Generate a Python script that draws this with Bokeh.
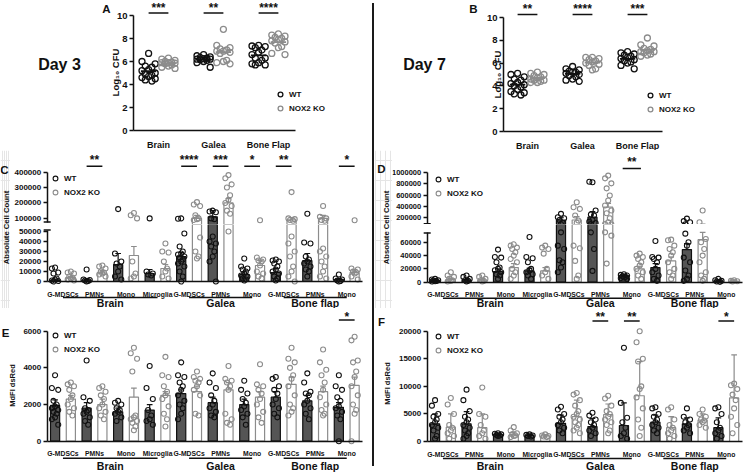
import math
import numpy as np
from bokeh.plotting import figure
from bokeh.models import (Range1d, FixedTicker, Label, Legend, LegendItem, Div,
                          BasicTickFormatter)
from bokeh.layouts import row, column
from bokeh.embed import file_html
from bokeh.resources import INLINE
from bokeh.core.properties import value

# ---------------- data ----------------
organs = ["Brain", "Galea", "Bone Flap"]
cell_types = ["G-MDSCs", "PMNs", "Mono", "Microglia", "G-MDSCs", "PMNs", "Mono",
              "G-MDSCs", "PMNs", "Mono"]
tissues = ["Brain", "Galea", "Bone flap"]
tissue_spans = [(1, 4), (5, 7), (8, 10)]

# Panel A: Day 3, Log10 CFU
d3_brain_wt = [6.7, 6.0, 5.8, 5.6, 5.5, 5.3, 5.2, 5.0, 4.9, 4.8, 4.7, 4.6, 4.5, 4.4, 4.3]
d3_brain_ko = [6.3, 6.2, 6.1, 6.0, 5.95, 5.9, 5.9, 5.85, 5.8, 5.7, 5.6, 5.5, 5.4]
d3_galea_wt = [6.6, 6.5, 6.4, 6.35, 6.3, 6.25, 6.2, 6.2, 6.15, 6.1, 6.0, 5.9, 5.5]
d3_galea_ko = [8.8, 7.4, 7.2, 7.1, 7.0, 6.9, 6.9, 6.8, 6.7, 6.1, 6.0, 5.9, 5.8]
d3_bone_wt = [7.4, 7.35, 7.3, 7.2, 7.0, 6.8, 6.6, 6.3, 6.3, 6.1, 5.9, 5.8, 5.7, 5.7]
d3_bone_ko = [8.4, 8.3, 8.2, 8.1, 8.0, 7.9, 7.8, 7.7, 7.6, 7.3, 7.2, 6.7, 6.6]
a_sig = ["***", "**", "****"]

# Panel B: Day 7, Log10 CFU
d7_brain_wt = [5.1, 5.0, 4.8, 4.6, 4.5, 4.3, 4.2, 4.1, 4.0, 3.9, 3.7, 3.5, 3.4, 3.3, 3.2]
d7_brain_ko = [5.2, 5.1, 5.0, 4.9, 4.8, 4.7, 4.6, 4.5, 4.5, 4.4, 4.3, 4.3]
d7_galea_wt = [5.7, 5.5, 5.4, 5.3, 5.2, 5.2, 5.1, 5.0, 4.9, 4.8, 4.6, 4.5, 4.4]
d7_galea_ko = [6.5, 6.5, 6.4, 6.3, 6.2, 6.1, 6.0, 5.9, 5.8, 5.5, 5.4]
d7_bone_wt = [7.0, 6.9, 6.8, 6.7, 6.6, 6.5, 6.4, 6.3, 6.2, 6.1, 6.0, 5.8, 5.5]
d7_bone_ko = [8.2, 7.6, 7.5, 7.3, 7.2, 7.1, 7.0, 7.0, 6.9, 6.8, 6.7, 6.6]
b_sig = ["**", "****", "***"]

# Panel C: Day 3 absolute cell count
c_wt_mean = [1500, 1500, 17000, 8000, 25000, 110000, 7000, 9000, 21000, 2000]
c_wt_err = [2500, 2200, 28000, 12000, 29000, 150000, 9500, 13000, 28000, 2800]
c_ko_mean = [4000, 8500, 26000, 13000, 100000, 200000, 16000, 90000, 100000, 9000]
c_ko_err = [5000, 11000, 35000, 17000, 120000, 228000, 21000, 105000, 120000, 12000]
c_wt_pts = [
    [14000, 13000, 9000, 8000, 3000, 2000, 1000, 500, 0],
    [12000, 2000, 1500, 1000, 500, 0],
    [160000, 28000, 20000, 18000, 15000, 10000, 5000, 2000],
    [100000, 10000, 8000, 7000, 6000],
    [100000, 98000, 48000, 35000, 30000, 28000, 27000, 25000, 24000, 22000, 20000, 18000, 15000, 10000, 5000, 0],
    [150000, 145000, 140000, 100000, 95000, 45000, 40000, 38000, 35000, 30000, 25000, 20000, 0],
    [23000, 15000, 13000, 12000, 10000, 8000, 6000, 5000, 3000, 2000, 1000],
    [22000, 21000, 20000, 18000, 15000, 12000, 10000, 8000, 5000, 3000, 1000],
    [130000, 39000, 38000, 25000, 22000, 20000, 18000, 15000, 12000, 10000, 5000],
    [7000, 3000, 2000, 1000, 500, 0],
]
c_ko_pts = [
    [10000, 9000, 8000, 5000, 4000, 3000, 2000, 1000],
    [16000, 15000, 13000, 10000, 9000, 8000, 7000, 5000],
    [135000, 120000, 100000, 20000, 8000, 5000, 3000],
    [38000, 30000, 29000, 20000, 13000, 10000, 5000, 3000],
    [205000, 190000, 180000, 120000, 100000, 95000, 90000, 44000, 30000, 25000, 23000],
    [380000, 360000, 320000, 300000, 250000, 220000, 200000, 180000, 150000, 130000, 50000],
    [88000, 24000, 22000, 21000, 20000, 16000, 10000, 8000, 5000, 3000],
    [270000, 100000, 95000, 90000, 85000, 45000, 38000, 30000, 25000, 15000, 10000, 5000, 0],
    [180000, 110000, 100000, 90000, 85000, 33000, 30000, 25000, 20000, 15000, 10000, 5000, 3000],
    [88000, 13000, 12000, 10000, 9000, 8000, 5000, 2000],
]
c_sig = [(2, "**"), (5, "****"), (6, "***"), (7, "*"), (8, "**"), (10, "*")]

# Panel D: Day 7 absolute cell count
d_wt_mean = [2500, 3000, 16000, 17000, 150000, 200000, 10000, 22000, 49000, 2000]
d_wt_err = [3500, 4000, 20000, 21000, 190000, 300000, 12000, 28000, 58000, 3000]
d_ko_mean = [4000, 3000, 22000, 17000, 150000, 380000, 20000, 32000, 64000, 1500]
d_ko_err = [5500, 4500, 28000, 22000, 210000, 450000, 24000, 38000, 75000, 2000]
d_wt_pts = [
    [5000, 4000, 3000, 2500, 2000, 1500, 1000],
    [10000, 8000, 5000, 3000, 2000, 1000],
    [49000, 38000, 37000, 30000, 22000, 20000, 18000, 15000, 12000, 10000, 5000],
    [68000, 38000, 36000, 30000, 20000, 18000, 15000, 12000, 10000, 5000],
    [260000, 200000, 180000, 150000, 100000, 75000, 55000, 50000, 33000, 30000, 22000, 15000],
    [830000, 840000, 320000, 250000, 230000, 150000, 120000, 95000, 75000, 50000, 17000],
    [12000, 11000, 10000, 9000, 8000, 7000, 6000, 5000],
    [62000, 38000, 37000, 35000, 30000, 20000, 15000, 10000, 5000, 2000],
    [175000, 130000, 110000, 73000, 60000, 55000, 37000, 30000, 17500, 10000, 5000, 2000],
    [5000, 3000, 2000, 1000, 500],
]
d_ko_pts = [
    [15000, 10000, 8000, 5000, 3000, 2000, 1000],
    [10000, 8000, 5000, 3000, 2000, 1000],
    [57000, 55000, 52000, 50000, 45000, 40000, 35000, 30000, 20000, 15000, 10000, 5000],
    [55000, 52000, 50000, 43000, 20000, 15000, 10000, 5000],
    [470000, 380000, 350000, 230000, 140000, 100000, 55000, 51000, 32000, 10000, 5000],
    [950000, 900000, 810000, 720000, 590000, 500000, 410000, 320000, 270000, 180000, 110000, 75000, 70000, 28000],
    [43000, 40000, 38000, 35000, 30000, 25000, 20000, 15000, 10000, 5000],
    [64000, 63000, 55000, 50000, 45000, 40000, 30000, 20000, 15000, 10000, 5000],
    [320000, 110000, 65000, 60000, 50000, 40000, 30000, 15000, 10000, 5000, 2000],
    [3000, 2000, 1500, 1000],
]
d_sig = [(7, "**")]

# Panel E: Day 3 MdFI dsRed
e_wt_mean = [1950, 1800, 1600, 1700, 2600, 2100, 2000, 2400, 2200, 1850]
e_wt_err = [2250, 2100, 1800, 2000, 2800, 2400, 2300, 2700, 2500, 2100]
e_ko_mean = [2300, 2000, 2400, 2500, 2700, 2800, 2400, 3100, 2700, 3050]
e_ko_err = [2500, 2300, 2900, 2700, 3000, 3200, 2700, 3500, 3000, 3500]
e_wt_pts = [
    [3600, 2900, 2800, 2200, 2000, 1900, 1800, 1700, 1600, 1500, 1300, 1200, 900],
    [4400, 2400, 2200, 1800, 1700, 1600, 1500, 1300, 1100, 900],
    [2200, 2100, 2000, 1800, 1700, 1600, 1500, 1300, 1100],
    [4100, 2900, 2300, 1700, 1400, 1200, 1100, 900],
    [4300, 3600, 3500, 3200, 3000, 2800, 2500, 2200, 2000, 1800, 1500, 1200],
    [3700, 3200, 2900, 2500, 2200, 2000, 1800, 1600, 1400, 1300],
    [3300, 2800, 2600, 2300, 2100, 1900, 1700, 1500, 1300, 900],
    [3500, 3400, 3000, 2800, 2600, 2300, 2000, 1800, 1500, 1300],
    [3700, 3200, 2700, 2600, 2500, 2200, 2000, 1800, 1500, 1200],
    [3600, 3000, 2800, 2400, 2200, 1900, 1800, 1600, 1400, 1200, 0],
]
e_ko_pts = [
    [3200, 3100, 3000, 2800, 2500, 2300, 2000, 1800, 1600, 1400],
    [3000, 2900, 2700, 2500, 2300, 2000, 1800, 1600, 1400, 1200],
    [5100, 4800, 4500, 3800, 1400, 1300, 1200, 1100, 1000, 800, 600],
    [4600, 3600, 3500, 3000, 2700, 2500, 2300, 1900, 1500, 1200, 800],
    [3800, 3500, 3400, 3300, 3200, 3000, 2800, 2500, 1500, 1400],
    [4100, 3400, 3300, 3200, 3000, 2800, 1500, 1200, 1000, 900],
    [4200, 3100, 3000, 2800, 2600, 2300, 2000, 1600, 1300, 1000],
    [5100, 4500, 4300, 4000, 3600, 3400, 3000, 2500, 2000, 1800, 1600, 1400],
    [5000, 4300, 3900, 3600, 3200, 2800, 2400, 2000, 1700, 1500, 1400],
    [5700, 5500, 4400, 4300, 3800, 3500, 3000, 2500, 2000, 1700, 1500, 0],
]
e_sig = [(10, "*")]

# Panel F: Day 7 MdFI dsRed
f_wt_mean = [3200, 3200, 1250, 1100, 3300, 2700, 2900, 3500, 3200, 2500]
f_wt_err = [5000, 5400, 1500, 1300, 4800, 4200, 7000, 4800, 4300, 4300]
f_ko_mean = [2600, 2500, 1200, 1000, 4500, 4900, 8300, 2500, 3900, 7900]
f_ko_err = [5000, 5000, 1700, 1200, 7500, 6800, 14500, 4500, 5000, 15700]
f_wt_pts = [
    [7500, 6500, 5000, 4500, 4000, 3500, 3000, 2500, 2000, 1000, 500],
    [9400, 7500, 5500, 4500, 4000, 3500, 3000, 2500, 2000, 1500, 1000, 500],
    [1500, 1400, 1300, 1200, 1100, 1000],
    [1300, 1200, 1100, 1000, 900],
    [6300, 5800, 5000, 4500, 4000, 3500, 3000, 2500, 2000, 1500],
    [5200, 4700, 4000, 3500, 3000, 2500, 2000, 1500, 1000],
    [17000, 7000, 4300, 3500, 2500, 1500, 1000, 500],
    [6200, 6000, 5000, 4500, 4000, 3500, 3000, 2500, 2000, 1500],
    [6000, 4500, 4000, 3500, 3000, 2500, 2000, 1500],
    [6200, 6000, 5000, 3500, 2500, 2000, 1500, 1000, 500],
]
f_ko_pts = [
    [7900, 6700, 5000, 3000, 2500, 2000, 1500, 1000, 500],
    [9800, 5000, 4500, 3000, 2000, 1500, 1000, 500],
    [2600, 2000, 1500, 1300, 1100, 1000, 800],
    [1300, 1100, 1000, 900, 800],
    [8800, 8500, 7500, 6500, 5500, 5000, 4500, 4000, 3500, 3000, 2500, 2000, 1500],
    [8300, 7800, 6500, 5500, 5000, 4500, 4000, 3500, 3000, 2000, 1500],
    [20000, 18000, 15000, 14500, 10000, 9500, 8000, 6000, 4000, 2500, 1000],
    [6200, 5800, 4000, 3000, 2500, 2000, 1500, 1000, 500],
    [5800, 5000, 4500, 4000, 3800, 3500, 3000, 2500],
    [10500, 10200, 9500, 8500, 7500, 6000, 4500, 3000, 1500],
]
f_sig = [(6, "**"), (7, "**"), (10, "*")]

# ---------------- styling / layout helpers ----------------
FONT = "Liberation Sans"
INK = "#111111"
WT_C = "#111111"
KO_C = "#8c8c8c"
WT_FILL = "#555555"
JIT = [0, -1, 1, -0.5, 0.5]
STAR_FS = 12


def mkfig(cell, xmap, ymap, xaxis=True, yaxis=True):
    """Figure whose frame fills its whole cell (pixel box); axes are placed inside it."""
    x0, x1, y0, y1 = cell

    def fx(x):
        return xmap[0] + (x - xmap[1]) * (xmap[2] - xmap[0]) / (xmap[3] - xmap[1])

    def fy(y):
        return ymap[0] + (y - ymap[1]) * (ymap[2] - ymap[0]) / (ymap[3] - ymap[1])

    p = figure(width=x1 - x0, height=y1 - y0, min_border=0,
               min_border_left=0, min_border_right=0, min_border_top=0, min_border_bottom=0,
               x_range=Range1d(fx(x0), fx(x1)), y_range=Range1d(fy(y1), fy(y0)),
               output_backend="svg", toolbar_location=None, title=None,
               x_axis_location="below" if xaxis else None,
               y_axis_location="left" if yaxis else None)
    p.outline_line_color = None
    p.background_fill_color = "white"
    p.border_fill_color = "white"
    if xaxis or yaxis:
        p.xgrid.visible = False
        p.ygrid.visible = False
    return p, fx, fy


def style_axis(ax, fs, ticks=True):
    ax.axis_line_width = 1.5
    ax.axis_line_color = INK
    ax.major_tick_line_width = 1.5
    ax.major_tick_line_color = INK if ticks else None
    ax.minor_tick_line_color = None
    ax.major_tick_out = 4
    ax.major_tick_in = 0
    ax.major_label_text_font = FONT
    ax.major_label_text_font_style = "bold"
    ax.major_label_text_font_size = fs
    ax.major_label_text_color = INK
    ax.major_label_standoff = 2


def set_yaxis(p, fx, axis_x, ticks, bounds, fs):
    ax = p.yaxis[0]
    style_axis(ax, fs)
    ax.fixed_location = fx(axis_x)
    ax.ticker = FixedTicker(ticks=ticks)
    ax.bounds = bounds
    ax.formatter = BasicTickFormatter(use_scientific=False)


def break_mark(p, fx, axis_x, at):
    p.segment(x0=[fx(axis_x - 3.5)], y0=[at], x1=[fx(axis_x + 3.5)], y1=[at],
              line_color=INK, line_width=1.5)


def set_xaxis(p, fx, span, labels, fs, standoff):
    ax = p.xaxis[0]
    style_axis(ax, fs, ticks=False)
    ax.fixed_location = 0
    ax.bounds = (fx(span[0]), fx(span[1]))
    ax.ticker = FixedTicker(ticks=list(range(1, len(labels) + 1)))
    ax.major_label_overrides = {i + 1: n for i, n in enumerate(labels)}
    ax.major_label_standoff = standoff


def lab(p, x, y, text, fs, angle=0.0, align="center", baseline="middle"):
    p.add_layout(Label(x=x, y=y, text=text, text_font=FONT, text_font_style="bold",
                       text_font_size=f"{fs}px", angle=angle, text_align=align,
                       text_baseline=baseline, text_color=INK))


def add_legend(p, rs, cell, left, bottom):
    leg = Legend(items=[LegendItem(label="WT", renderers=[rs[0]]),
                        LegendItem(label="NOX2 KO", renderers=[rs[1]])],
                 location=(left - cell[0], cell[3] - bottom), orientation="vertical",
                 padding=0, margin=0, spacing=2, glyph_width=12, glyph_height=12,
                 label_height=12, label_standoff=3, label_text_font=FONT,
                 label_text_font_style="bold", label_text_font_size="8px",
                 label_text_color=INK, background_fill_alpha=0, border_line_color=None)
    p.add_layout(leg)


def add_sig(p, fy, sigs, off, line_y, star_y):
    cs = [c for c, s in sigs]
    p.segment(x0=[c - off for c in cs], y0=[fy(line_y)] * len(cs),
              x1=[c + off for c in cs], y1=[fy(line_y)] * len(cs),
              line_color=INK, line_width=1.5)
    p.text(x=cs, y=[fy(star_y + 1)] * len(cs), text=[s for c, s in sigs],
           text_font=value(FONT), text_font_style="bold", text_font_size=f"{STAR_FS}px",
           text_align="center", text_baseline="alphabetic", text_color=INK)


def draw_scatter(p, wt_groups, ko_groups):
    rs = []
    for groups, off, col in [(wt_groups, -0.18, WT_C), (ko_groups, 0.18, KO_C)]:
        xs, ys, mx0, mx1, my = [], [], [], [], []
        for i, g in enumerate(groups):
            c = i + 1 + off
            for k, v in enumerate(g):
                xs.append(c + JIT[k % 5] * 0.12)
                ys.append(v)
            mx0.append(c - 0.14)
            mx1.append(c + 0.14)
            my.append(float(np.mean(g)))
        r = p.scatter(xs, ys, marker="circle", size=6, fill_color=None,
                      line_color=col, line_width=1.3)
        p.segment(x0=mx0, y0=my, x1=mx1, y1=my, line_color=col, line_width=1.8)
        rs.append(r)
    return rs


def draw_bars(p, wt_mean, wt_err, ko_mean, ko_err, wt_pts, ko_pts):
    """Bars, SEM/SD whiskers and points, restricted to the figure's visible y span."""
    lo, hi = p.y_range.start, p.y_range.end
    base = max(0, lo)
    rs = []
    for mean, err, pts, off, fill, col in [
            (wt_mean, wt_err, wt_pts, -0.25, WT_FILL, WT_C),
            (ko_mean, ko_err, ko_pts, 0.25, "white", KO_C)]:
        bx = [i + 1 + off for i in range(len(mean))]
        vb = [i for i in range(len(mean)) if mean[i] > lo]
        p.vbar(x=[bx[i] for i in vb], top=[min(mean[i], hi) for i in vb], bottom=base,
               width=0.29, fill_color=fill, line_color=col, line_width=1.2)
        ve = [i for i in range(len(mean)) if err[i] > lo and mean[i] < hi]
        p.segment(x0=[bx[i] for i in ve], y0=[max(mean[i], lo) for i in ve],
                  x1=[bx[i] for i in ve], y1=[min(err[i], hi) for i in ve],
                  line_color=col, line_width=1.2)
        vc = [i for i in range(len(mean)) if lo < err[i] < hi]
        p.segment(x0=[bx[i] - 0.09 for i in vc], y0=[err[i] for i in vc],
                  x1=[bx[i] + 0.09 for i in vc], y1=[err[i] for i in vc],
                  line_color=col, line_width=1.2)
        xs, ys = [], []
        for i, g in enumerate(pts):
            for k, v in enumerate(g):
                if lo <= v <= hi:
                    xs.append(bx[i] + JIT[k % 5] * 0.1)
                    ys.append(v)
        rs.append(p.scatter(xs, ys, marker="circle", size=5, fill_color=None,
                            line_color=col, line_width=1.1))
    return rs


def group_labels(p, fy, axis_y, line_off, text_off):
    ly = fy(axis_y + line_off)
    ty = fy(axis_y + text_off)
    p.segment(x0=[a for a, b in tissue_spans], y0=[ly] * 3,
              x1=[b for a, b in tissue_spans], y1=[ly] * 3, line_color=INK, line_width=1.5)
    p.text(x=[(a + b) / 2 for a, b in tissue_spans], y=[ty] * 3, text=tissues,
           text_font=value(FONT), text_font_style="bold", text_font_size="10.5px",
           text_align="center", text_baseline="middle", text_color=INK)


def cfu_panel(cell, axis_box, xmap, ymap, wt, ko, sigs, letter, letter_xy, day, day_xy,
              ytitle_xy, sig_line_y, sig_star_y, legend_lb):
    p, fx, fy = mkfig(cell, xmap, ymap)
    set_yaxis(p, fx, axis_box[0], [0, 2, 4, 6, 8, 10], (0, 10), "9.5px")
    set_xaxis(p, fx, (axis_box[0], axis_box[1]), organs, "9px", 5)
    rs = draw_scatter(p, wt, ko)
    add_sig(p, fy, [(i + 1, s) for i, s in enumerate(sigs)], 0.18, sig_line_y, sig_star_y)
    lab(p, fx(letter_xy[0]), fy(letter_xy[1]), letter, 11.5)
    lab(p, fx(day_xy[0]), fy(day_xy[1]), day, 16)
    lab(p, fx(ytitle_xy[0]), fy(ytitle_xy[1]), "Log\u2081\u2080 CFU", 9.5, angle=math.pi / 2)
    add_legend(p, rs, cell, legend_lb[0], legend_lb[1])
    return p


# ---------------- Panel A / B ----------------
pA = cfu_panel((0, 371, 0, 150), (133, 295), (1, 158, 2, 213), (0, 130, 10, 15),
               [d3_brain_wt, d3_galea_wt, d3_bone_wt],
               [d3_brain_ko, d3_galea_ko, d3_bone_ko], a_sig,
               "A", (106, 8), "Day 3", (59, 64), (115, 72), 12.5, 6.8, (274, 114))

pB = cfu_panel((374, 750, 0, 150), (503, 662), (1, 527, 2, 582), (0, 131, 10, 17),
               [d7_brain_wt, d7_galea_wt, d7_bone_wt],
               [d7_brain_ko, d7_galea_ko, d7_bone_ko], b_sig,
               "B", (473, 8), "Day 7", (424, 64), (497, 74), 14, 7.5, (644, 115))

# ---------------- Panel C (broken y axis: two stacked figures) ----------------
xmapC = (0.5, 46.7, 10.5, 362)
cellCt = (10, 371, 150, 224)
pCt, fxCt, fyCt = mkfig(cellCt, xmapC, (400000, 171.5, 100000, 217.9), xaxis=False)
set_yaxis(pCt, fxCt, 46.7, [100000, 200000, 300000, 400000], (76000, 400000), "8px")
break_mark(pCt, fxCt, 46.7, 76000)
rsC = draw_bars(pCt, c_wt_mean, c_wt_err, c_ko_mean, c_ko_err, c_wt_pts, c_ko_pts)
add_sig(pCt, fyCt, c_sig, 0.25, 165.7, 158)
add_legend(pCt, rsC, cellCt, 49, 198)

cellCb = (10, 371, 224, 308)
pCb, fxCb, fyCb = mkfig(cellCb, xmapC, (0, 281, 50000, 231))
set_yaxis(pCb, fxCb, 46.7, [0, 10000, 20000, 30000, 40000, 50000], (0, 51500), "8px")
break_mark(pCb, fxCb, 46.7, 51500)
set_xaxis(pCb, fxCb, (46.7, 362), cell_types, "6.8px", 5)
draw_bars(pCb, c_wt_mean, c_wt_err, c_ko_mean, c_ko_err, c_wt_pts, c_ko_pts)
group_labels(pCb, fyCb, 281, 16, 21)

stripC, _, _ = mkfig((0, 10, 150, 308), (0, 0, 1, 1), (0, 0, -1, 1), xaxis=False, yaxis=False)
lab(stripC, 4, -169, "C", 11.5)
lab(stripC, 5.5, -227, "Absolute Cell Count", 7.7, angle=math.pi / 2)

# ---------------- Panel D (broken y axis) ----------------
xmapD = (0.5, 426.7, 10.5, 741.5)
cellDt = (392, 750, 150, 224)
pDt, fxDt, fyDt = mkfig(cellDt, xmapD, (1000000, 172.3, 200000, 216.7), xaxis=False)
set_yaxis(pDt, fxDt, 426.7, [200000, 400000, 600000, 800000, 1000000], (82000, 1000000), "7.5px")
break_mark(pDt, fxDt, 426.7, 82000)
rsD = draw_bars(pDt, d_wt_mean, d_wt_err, d_ko_mean, d_ko_err, d_wt_pts, d_ko_pts)
add_sig(pDt, fyDt, d_sig, 0.29, 168, 160.5)
add_legend(pDt, rsD, cellDt, 432, 199)

cellDb = (392, 750, 224, 308)
pDb, fxDb, fyDb = mkfig(cellDb, xmapD, (0, 281.7, 60000, 241.8))
set_yaxis(pDb, fxDb, 426.7, [0, 20000, 40000, 60000], (0, 74000), "7.5px")
break_mark(pDb, fxDb, 426.7, 74000)
set_xaxis(pDb, fxDb, (426.7, 741.5), cell_types, "6.8px", 5)
draw_bars(pDb, d_wt_mean, d_wt_err, d_ko_mean, d_ko_err, d_wt_pts, d_ko_pts)
group_labels(pDb, fyDb, 281.7, 16, 21)

stripD, _, _ = mkfig((374, 392, 150, 308), (0, 0, 1, 1), (0, 0, -1, 1), xaxis=False, yaxis=False)
lab(stripD, 381, -168, "D", 11.5)
lab(stripD, 385.5, -227, "Absolute Cell Count", 7.7, angle=math.pi / 2)

# ---------------- Panel E ----------------
cellE = (0, 371, 308, 474)
pE, fxE, fyE = mkfig(cellE, xmapC, (0, 440.7, 6000, 330.7))
set_yaxis(pE, fxE, 46.7, [0, 2000, 4000, 6000], (0, 6000), "8px")
set_xaxis(pE, fxE, (46.7, 362), cell_types, "6.8px", 5)
rsE = draw_bars(pE, e_wt_mean, e_wt_err, e_ko_mean, e_ko_err, e_wt_pts, e_ko_pts)
group_labels(pE, fyE, 440.7, 17, 24.5)
add_sig(pE, fyE, e_sig, 0.25, 319.5, 315)
add_legend(pE, rsE, cellE, 49, 355)
lab(pE, fxE(5), fyE(332), "E", 11.5)
lab(pE, fxE(12), fyE(385), "MdFI dsRed", 7.5, angle=math.pi / 2)

# ---------------- Panel F ----------------
cellF = (374, 750, 308, 474)
pF, fxF, fyF = mkfig(cellF, xmapD, (0, 441, 20000, 330.7))
set_yaxis(pF, fxF, 426.7, [0, 5000, 10000, 15000, 20000], (0, 20000), "8px")
set_xaxis(pF, fxF, (426.7, 741.5), cell_types, "6.8px", 5)
rsF = draw_bars(pF, f_wt_mean, f_wt_err, f_ko_mean, f_ko_err, f_wt_pts, f_ko_pts)
group_labels(pF, fyF, 441, 17, 24.5)
add_sig(pF, fyF, f_sig, 0.25, 320.5, 315.5)
add_legend(pF, rsF, cellF, 432, 356)
lab(pF, fxF(381), fyF(321), "F", 11.5)
lab(pF, fxF(387), fyF(383), "MdFI dsRed", 7.5, angle=math.pi / 2)

# ---------------- assemble ----------------
divider = Div(text='<div style="width:1.5px;height:463px;background:#1a1a1a;'
                   'margin-left:1px;margin-top:3px"></div>',
              width=3, height=474, margin=0, styles={"overflow": "hidden"})

left = column(row(pA), row(stripC, column(pCt, pCb)), row(pE))
right = column(row(pB), row(stripD, column(pDt, pDb)), row(pF))
page = row(left, divider, right)

open("out.html", "w").write(file_html(page, INLINE, "NOX2 KO vs WT"))
